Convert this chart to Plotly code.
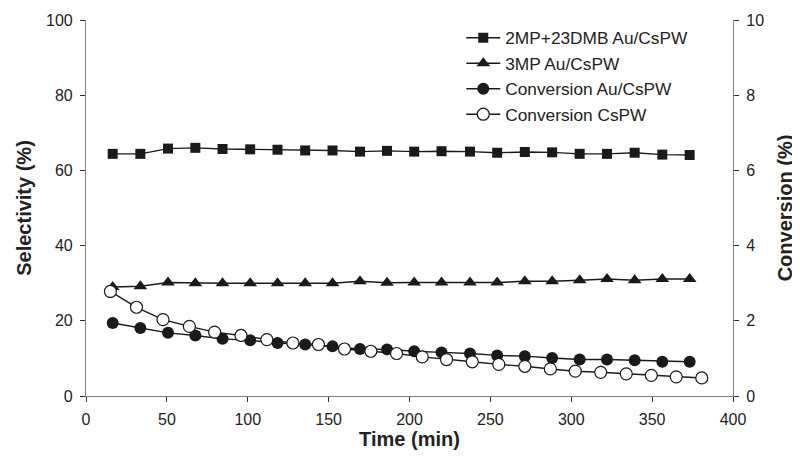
import plotly.graph_objects as go

# Time (min) for Au/CsPW series
time_au = [16.5, 33.6, 50.7, 67.6, 84.4, 101.5, 118.4, 135.5, 152.4, 169.4, 186.1,
           202.9, 219.8, 237.4, 254.2, 271.3, 288.2, 305.2, 322.1, 339.2, 356.3, 373.2]
# Time (min) for CsPW series
time_cspw = [15.1, 31.2, 47.6, 63.9, 79.5, 95.8, 111.8, 127.9, 143.7, 159.8, 176.1, 192.0,
             207.9, 222.9, 238.8, 255.2, 271.3, 287.1, 302.5, 318.2, 334.0, 349.5, 364.9, 380.7]

sel_2mp_23dmb = [64.4, 64.4, 65.8, 66.0, 65.7, 65.6, 65.5, 65.3, 65.3, 65.0, 65.2,
                 65.0, 65.1, 65.0, 64.7, 64.9, 64.8, 64.4, 64.4, 64.7, 64.2, 64.1]
sel_3mp = [29.0, 29.2, 30.2, 30.0, 30.0, 30.0, 30.0, 30.0, 30.0, 30.5, 30.1,
           30.2, 30.2, 30.2, 30.2, 30.5, 30.5, 30.8, 31.1, 30.8, 31.1, 31.1]
conv_au = [1.94, 1.81, 1.68, 1.61, 1.52, 1.48, 1.41, 1.37, 1.32, 1.25, 1.24,
           1.19, 1.16, 1.13, 1.08, 1.06, 1.01, 0.97, 0.97, 0.95, 0.91, 0.91]
conv_cspw = [2.78, 2.36, 2.03, 1.85, 1.70, 1.61, 1.50, 1.41, 1.37, 1.25, 1.19, 1.13,
             1.04, 0.97, 0.91, 0.84, 0.79, 0.72, 0.66, 0.63, 0.59, 0.55, 0.51, 0.48]

FONT = "Liberation Sans, Arial, sans-serif"
line = dict(color="#1a1a1a", width=1.4)

fig = go.Figure()
fig.add_trace(go.Scatter(x=time_au, y=sel_2mp_23dmb, name="2MP+23DMB Au/CsPW", mode="lines+markers",
                         line=line, marker=dict(symbol="square", size=10, color="#1a1a1a")))
fig.add_trace(go.Scatter(x=time_au, y=sel_3mp, name="3MP Au/CsPW", mode="lines+markers",
                         line=line, marker=dict(symbol="triangle-up", size=12, color="#1a1a1a")))
fig.add_trace(go.Scatter(x=time_au, y=conv_au, name="Conversion Au/CsPW", mode="lines+markers", yaxis="y2",
                         line=line, marker=dict(symbol="circle", size=12, color="#1a1a1a")))
fig.add_trace(go.Scatter(x=time_cspw, y=conv_cspw, name="Conversion CsPW", mode="lines+markers", yaxis="y2",
                         line=line, marker=dict(symbol="circle", size=12, color="white",
                                                line=dict(color="#1a1a1a", width=1.2))))

axis_common = dict(showgrid=False, zeroline=False, showline=True, linecolor="#808080", linewidth=1.2,
                   ticks="outside", ticklen=5, tickcolor="#333", ticklabelstandoff=4,
                   tickfont=dict(family=FONT, size=16, color="#222"))
title_font = dict(family=FONT, size=20, color="#222")

fig.update_layout(
    width=792, height=449,
    margin=dict(l=77.5, r=66.5, t=12, b=60.5, autoexpand=False),
    paper_bgcolor="white", plot_bgcolor="white",
    font=dict(family=FONT, color="#222"),
    showlegend=True,
    legend=dict(x=0.58, y=1.0, xanchor="left", yanchor="top", bgcolor="rgba(0,0,0,0)",
                font=dict(family=FONT, size=17.3, color="#222"), tracegroupgap=0, itemwidth=34),
    xaxis=dict(range=[0, 400], dtick=50, title=dict(text="<b>Time (min)</b>", font=title_font, standoff=0),
               **axis_common),
    yaxis=dict(range=[0, 100], dtick=20, title=dict(text="<b>Selectivity (%)</b>", font=title_font, standoff=8),
               **axis_common),
    yaxis2=dict(range=[0, 10], dtick=2, overlaying="y", side="right",
                title=dict(text="<b>Conversion (%)</b>", font=title_font, standoff=14),
                **axis_common),
)

fig.write_html("out.html")
